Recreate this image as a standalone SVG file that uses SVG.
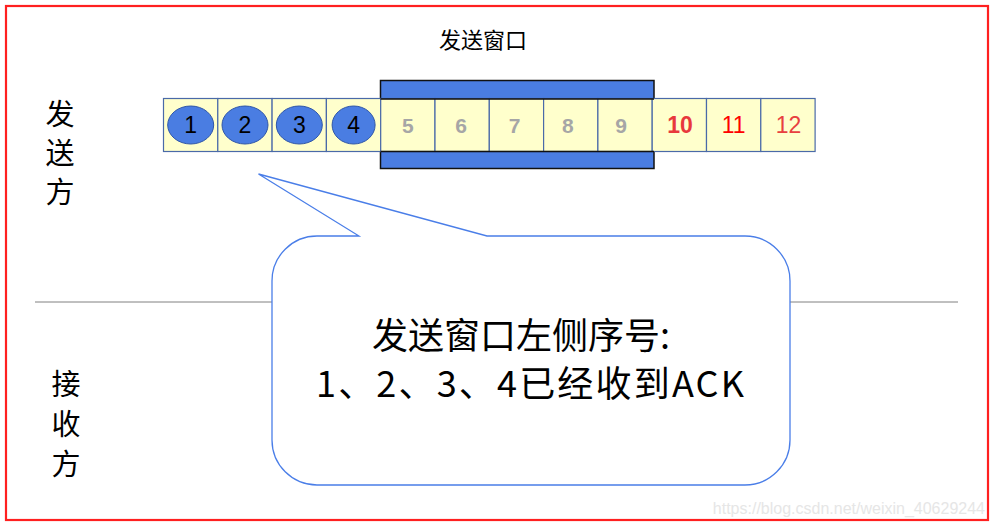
<svg xmlns="http://www.w3.org/2000/svg" width="994" height="526" viewBox="0 0 994 526">
<style>
.cell{fill:#ffffcc;stroke:#4a6aa8;stroke-width:1.2}
.ell{fill:#4a7de2;stroke:#2f56a8;stroke-width:1}
.n{font-family:"Liberation Sans",Arial,sans-serif;font-size:23px;text-anchor:middle}
.g{fill:#a6a6a6;font-weight:bold;font-size:21px}
.cjk{font-family:"Noto Sans CJK SC",sans-serif;fill:#000}
.side{font-size:29px;text-anchor:middle}
</style>
<rect x="0" y="0" width="994" height="526" fill="#fff"/>
<rect x="6" y="6" width="982" height="514" fill="none" stroke="#ff2020" stroke-width="2.2"/>
<line x1="35" y1="302" x2="958" y2="302" stroke="#808080" stroke-width="1"/>
<text class="cjk" x="483" y="48" font-size="22" text-anchor="middle">发送窗口</text>
<g id="sender-label" class="cjk side">
<text x="60" y="125">发</text>
<text x="60" y="164">送</text>
<text x="60" y="203">方</text>
</g>
<g id="receiver-label" class="cjk side">
<text x="66" y="395">接</text>
<text x="66" y="435">收</text>
<text x="66" y="475">方</text>
</g>
<g id="window">
<rect x="380.5" y="80.5" width="273.5" height="88" fill="#4a7de2" stroke="#111" stroke-width="1.5"/>
</g>
<g id="cells">
<g id="c1"><rect class="cell" x="163.5" y="98.5" width="54.3" height="53"/><ellipse class="ell" cx="190.7" cy="125" rx="23" ry="19"/><text class="n" x="190.7" y="133">1</text></g>
<g id="c2"><rect class="cell" x="217.8" y="98.5" width="54.3" height="53"/><ellipse class="ell" cx="245" cy="125" rx="23" ry="19"/><text class="n" x="245" y="133">2</text></g>
<g id="c3"><rect class="cell" x="272.1" y="98.5" width="54.3" height="53"/><ellipse class="ell" cx="299.3" cy="125" rx="23" ry="19"/><text class="n" x="299.3" y="133">3</text></g>
<g id="c4"><rect class="cell" x="326.4" y="98.5" width="54.3" height="53"/><ellipse class="ell" cx="353.6" cy="125" rx="21.5" ry="19"/><text class="n" x="353.6" y="133">4</text></g>
<g id="c5"><rect class="cell" x="380.7" y="98.5" width="54.3" height="53"/><text class="n g" x="407.9" y="133">5</text></g>
<g id="c6"><rect class="cell" x="435" y="98.5" width="54.3" height="53"/><text class="n g" x="461" y="133">6</text></g>
<g id="c7"><rect class="cell" x="489.3" y="98.5" width="54.3" height="53"/><text class="n g" x="514.5" y="133">7</text></g>
<g id="c8"><rect class="cell" x="543.6" y="98.5" width="54.3" height="53"/><text class="n g" x="567.8" y="133">8</text></g>
<g id="c9"><rect class="cell" x="597.9" y="98.5" width="54.3" height="53"/><text class="n g" x="621" y="133">9</text></g>
<g id="c10"><rect class="cell" x="652.2" y="98.5" width="54.3" height="53"/><text class="n" x="680" y="133" fill="#e8383c" font-weight="bold" font-size="21">10</text></g>
<g id="c11"><rect class="cell" x="706.5" y="98.5" width="54.3" height="53"/><text class="n" x="733.7" y="133" fill="#ff0000" font-size="21">11</text></g>
<g id="c12"><rect class="cell" x="760.8" y="98.5" width="54.3" height="53"/><text class="n" x="788.5" y="133" fill="#e84040" font-size="23">12</text></g>
<line x1="380.5" y1="99" x2="654" y2="99" stroke="#111" stroke-width="1.5"/>
<line x1="380.5" y1="151.5" x2="654" y2="151.5" stroke="#111" stroke-width="1.5"/>
</g>
<g id="callout">
<path d="M317,236 L359,236 L258.5,174 L487,236 L745,236 A45,45 0 0 1 790,281 L790,440 A45,45 0 0 1 745,485 L317,485 A45,45 0 0 1 272,440 L272,281 A45,45 0 0 1 317,236 Z" fill="#fff" stroke="#4a7ee8" stroke-width="1.3"/>
<text class="cjk" x="521" y="349" font-size="36" text-anchor="middle">发送窗口左侧序号:</text>
<text class="cjk" x="530" y="397" font-size="36" text-anchor="middle" textLength="428" lengthAdjust="spacing">1、2、3、4已经收到ACK</text>
</g>
<text x="985" y="514" font-family="Liberation Sans,Arial,sans-serif" font-size="16" fill="#e6e6e6" text-anchor="end">https://blog.csdn.net/weixin_40629244</text>
</svg>
